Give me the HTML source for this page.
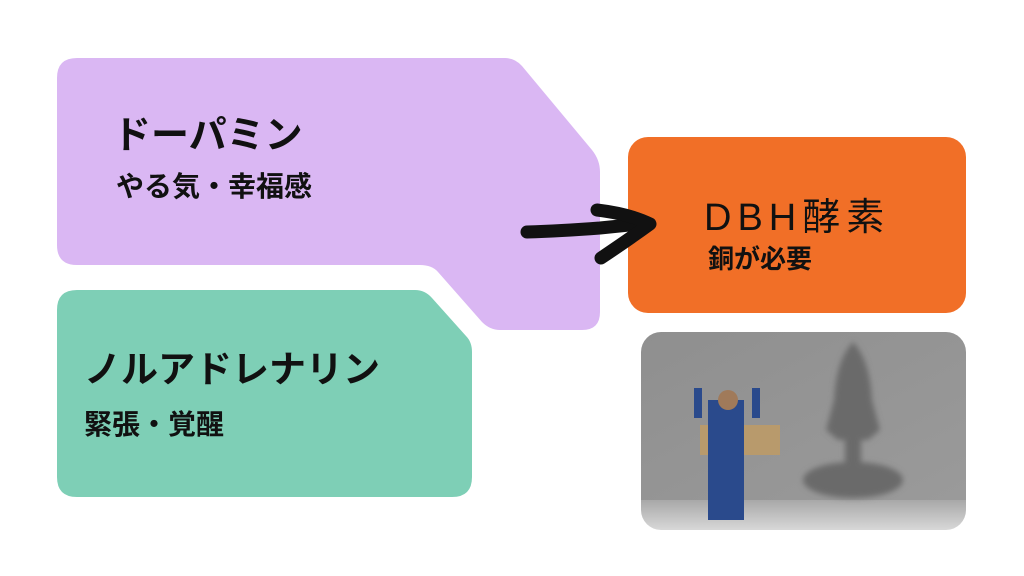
<!DOCTYPE html>
<html><head><meta charset="utf-8"><style>
body{margin:0;width:1024px;height:576px;background:#fff;overflow:hidden;position:relative;font-family:"Liberation Sans","Noto Sans CJK JP",sans-serif}
.t{position:absolute;color:#111;font-weight:bold;white-space:nowrap;line-height:1}
</style></head><body>
<svg width="1024" height="576" style="position:absolute;left:0;top:0">
<defs>
<linearGradient id="wall" x1="0" y1="0" x2="1" y2="1"><stop offset="0" stop-color="#8f8f8f"/><stop offset="1" stop-color="#9a9a9a"/></linearGradient>
<linearGradient id="floor" x1="0" y1="0" x2="0" y2="1"><stop offset="0" stop-color="#a8a8a8"/><stop offset="1" stop-color="#d8d8d8"/></linearGradient>
<clipPath id="c"><rect x="641" y="332" width="325" height="198" rx="20"/></clipPath>
<filter id="b"><feGaussianBlur stdDeviation="3"/></filter>
</defs>
<path d="M77 58 H505 Q515 58 522 66 L592 150 Q600 160 600 172 V312 Q600 330 582 330 H500 Q490 330 482 322 L438 272 Q432 265 420 265 H77 Q57 265 57 245 V78 Q57 58 77 58 Z" fill="#dab7f3"/>
<path d="M77 290 H415 Q425 290 432 298 L466 336 Q472 342 472 352 V477 Q472 497 452 497 H77 Q57 497 57 477 V310 Q57 290 77 290 Z" fill="#7ecfb6"/>
<rect x="628" y="137" width="338" height="176" rx="20" fill="#f16f27"/>
<g clip-path="url(#c)">
<rect x="641" y="332" width="325" height="168" fill="url(#wall)"/>
<rect x="641" y="500" width="325" height="30" fill="url(#floor)"/>
<g filter="url(#b)" fill="#6a6a6a">
<path d="M853 342 Q870 360 872 400 L880 430 L868 440 L838 440 L826 430 L834 400 Q836 360 853 342Z"/>
<ellipse cx="853" cy="480" rx="50" ry="18"/>
<rect x="845" y="440" width="16" height="35"/>
</g>
<rect x="700" y="425" width="80" height="30" fill="#b89a6c"/>
<rect x="708" y="400" width="36" height="50" fill="#2a4a8c"/>
<rect x="708" y="450" width="36" height="70" fill="#2a4a8c"/>
<rect x="694" y="388" width="8" height="30" fill="#2a4a8c"/>
<rect x="752" y="388" width="8" height="30" fill="#2a4a8c"/>
<circle cx="728" cy="400" r="10" fill="#a07a5a"/>
</g>
<path d="M527 232 Q560 231 600 228 L640 224" stroke="#111" stroke-width="13" fill="none" stroke-linecap="round"/>
<path d="M597 210 Q630 214 650 224 Q628 240 601 258" stroke="#111" stroke-width="13" fill="none" stroke-linecap="round" stroke-linejoin="round"/>
</svg>
<div class="t" style="left:113px;top:117px;font-size:38px">ドーパミン</div>
<div class="t" style="left:116px;top:173px;font-size:28px">やる気・幸福感</div>
<div class="t" style="left:84px;top:351px;font-size:37px">ノルアドレナリン</div>
<div class="t" style="left:84px;top:411px;font-size:28px">緊張・覚醒</div>
<div class="t" style="left:704px;top:199px;font-size:38px;font-weight:normal;letter-spacing:6px">DBH酵素</div>
<div class="t" style="left:708px;top:246px;font-size:26px">銅が必要</div>
</body></html>
